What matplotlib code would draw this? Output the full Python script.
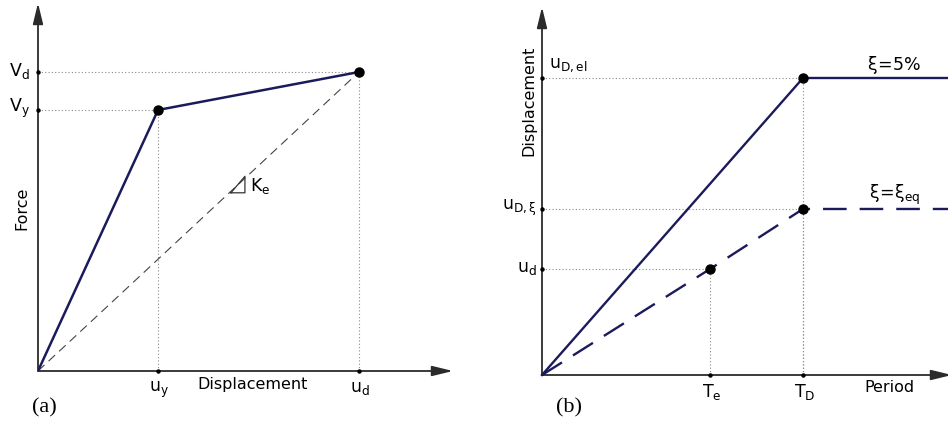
import matplotlib
matplotlib.use("Agg")
import matplotlib.pyplot as plt
from matplotlib.patches import FancyArrowPatch

plt.rcParams['font.family'] = ['DejaVu Sans']
plt.rcParams['mathtext.fontset'] = 'dejavusans'

# (a) capacity curve: bilinear force-displacement
disp_pts = [0.0, 0.374, 1.0]       # 0, u_y, u_d
force_pts = [0.0, 0.873, 1.0]      # 0, V_y, V_d
a_xticks = [0.374, 1.0]
a_xlabels = [r'$\mathregular{u_y}$', r'$\mathregular{u_d}$']
a_yticks = [0.873, 1.0]
a_ylabels = [r'$\mathregular{V_y}$', r'$\mathregular{V_d}$']

# (b) displacement spectra
period_el = [0.0, 1.0, 1.556]      # 0, T_D, end
disp_el = [0.0, 1.0, 1.0]          # xi = 5%
period_eq = [0.0, 0.644, 1.0, 1.556]
disp_eq = [0.0, 0.357, 0.559, 0.559]  # xi = xi_eq
b_xticks = [0.644, 1.0]
b_xlabels = [r'$\mathregular{T_e}$', r'$\mathregular{T_D}$']
b_points_x = [1.0, 1.0, 0.644]
b_points_y = [1.0, 0.559, 0.357]

navy = '#1b1b5c'
axis_col = '#2b2b2b'
guide_col = '#8a8a8a'
fs = 11.5


def draw_axes(ax):
    ax.set_axis_off()
    for end in [(1, 0), (0, 1)]:
        arr = FancyArrowPatch((0, 0), end, transform=ax.transAxes,
                              arrowstyle='-|>,head_length=0.7,head_width=0.17',
                              mutation_scale=18, color=axis_col, lw=1.3,
                              shrinkA=0, shrinkB=0, clip_on=False, zorder=3)
        ax.add_patch(arr)


fig = plt.figure(figsize=(9.48, 4.23), dpi=100)

# ---- panel (a)
ax1 = fig.add_axes([38 / 948, 52 / 423, 415 / 948, 368 / 423])
ax1.set_xlim(0, 415 / 321)
ax1.set_ylim(0, 368 / 299)
draw_axes(ax1)

# guides
for x, y in zip(disp_pts[1:], force_pts[1:]):
    ax1.plot([x, x], [0, y], ls=(0, (1, 2)), lw=0.8, color=guide_col, zorder=1)
    ax1.plot([0, x], [y, y], ls=(0, (1, 2)), lw=0.8, color=guide_col, zorder=1)

# secant stiffness
ax1.plot([0, disp_pts[-1]], [0, force_pts[-1]], ls=(0, (8, 5)), lw=0.8,
         color='#444444', zorder=2)
ax1.plot(disp_pts, force_pts, color=navy, lw=1.8, zorder=4)
ax1.plot(disp_pts[1:], force_pts[1:], 'o', color='black', ms=6.5, zorder=5)
ax1.plot(a_xticks, [0, 0], 'o', color='black', ms=2.2, zorder=5, clip_on=False)
ax1.plot([0, 0], a_yticks, 'o', color='black', ms=2.2, zorder=5, clip_on=False)

for x, lab in zip(a_xticks, a_xlabels):
    ax1.annotate(lab, (x, 0), xytext=(1, -6), textcoords='offset points',
                 ha='center', va='top', fontsize=fs + 1)
for y, lab in zip(a_yticks, a_ylabels):
    ax1.annotate(lab, (0, y), xytext=(-6, 1), textcoords='offset points',
                 ha='right', va='center', fontsize=fs + 1)

ax1.text(215 / 321, -13 / 299, 'Displacement', ha='center', va='center', fontsize=fs)
ax1.text(-16 / 321, 163 / 299, 'Force', ha='center', va='center', rotation=90,
         fontsize=fs)

# slope triangle on the secant line
t = 0.601
x0, y0 = t * disp_pts[-1], t * force_pts[-1]
sx, sy = 14 / 321, 15 / 299
ax1.plot([x0, x0 + sx, x0 + sx, x0], [y0 - 1.5 / 299, y0 - 1.5 / 299, y0 + sy, y0 - 1.5 / 299],
         color='#333333', lw=0.9, zorder=3)
ax1.annotate(r'$\mathregular{K_e}$', (x0, y0), xytext=(14, 4),
             textcoords='offset points', ha='left', va='center', fontsize=fs + 1)

fig.text(44 / 948, 1 - 408 / 423, '(a)', family='Liberation Serif', fontsize=16,
         ha='center', va='center')

# ---- panel (b)
ax2 = fig.add_axes([542 / 948, 48 / 423, 410 / 948, 368 / 423])
ax2.set_xlim(0, 410 / 261)
ax2.set_ylim(0, 368 / 297)
draw_axes(ax2)

for x, y in zip(b_points_x, b_points_y):
    ax2.plot([x, x], [0, y], ls=(0, (1, 2)), lw=0.8, color=guide_col, zorder=1)
    ax2.plot([0, x], [y, y], ls=(0, (1, 2)), lw=0.8, color=guide_col, zorder=1)

ax2.plot(period_el, disp_el, color=navy, lw=1.7, zorder=4, clip_on=False)
ax2.plot(period_eq, disp_eq, color=navy, lw=1.7, ls=(0, (10, 5.5)), zorder=4,
         clip_on=False)
ax2.plot(b_points_x, b_points_y, 'o', color='black', ms=6.5, zorder=5)
ax2.plot(b_xticks, [0, 0], 'o', color='black', ms=2.2, zorder=5, clip_on=False)
ax2.plot([0, 0, 0], b_points_y, 'o', color='black', ms=2.2, zorder=5, clip_on=False)

for x, lab in zip(b_xticks, b_xlabels):
    ax2.annotate(lab, (x, 0), xytext=(1, -5), textcoords='offset points',
                 ha='center', va='top', fontsize=fs + 1)

ax2.annotate(r'$\mathregular{u_{D,el}}$', (0, b_points_y[0]), xytext=(5, 9),
             textcoords='offset points', ha='left', va='center', fontsize=fs + 1)
ax2.annotate(r'$\mathregular{u_{D,\xi}}$', (0, b_points_y[1]), xytext=(-4, 1),
             textcoords='offset points', ha='right', va='center', fontsize=fs + 1)
ax2.annotate(r'$\mathregular{u_d}$', (0, b_points_y[2]), xytext=(-4, 1),
             textcoords='offset points', ha='right', va='center', fontsize=fs + 1)

ax2.annotate(r'$\mathregular{\xi\!=\!5\%}$', (1.35, disp_el[-1]), xytext=(0, 9),
             textcoords='offset points', ha='center', va='center', fontsize=fs + 1)
ax2.annotate(r'$\mathregular{\xi\!=\!\xi_{eq}}$', (1.35, disp_eq[-1]), xytext=(0, 10),
             textcoords='offset points', ha='center', va='center', fontsize=fs + 1)

ax2.text(347 / 261, -12 / 297, 'Period', ha='center', va='center', fontsize=fs)
ax2.text(-13 / 261, 274 / 297, 'Displacement', ha='center', va='center',
         rotation=90, fontsize=fs)

fig.text(569 / 948, 1 - 408 / 423, '(b)', family='Liberation Serif', fontsize=16,
         ha='center', va='center')

fig.savefig('out.png', dpi=100)
